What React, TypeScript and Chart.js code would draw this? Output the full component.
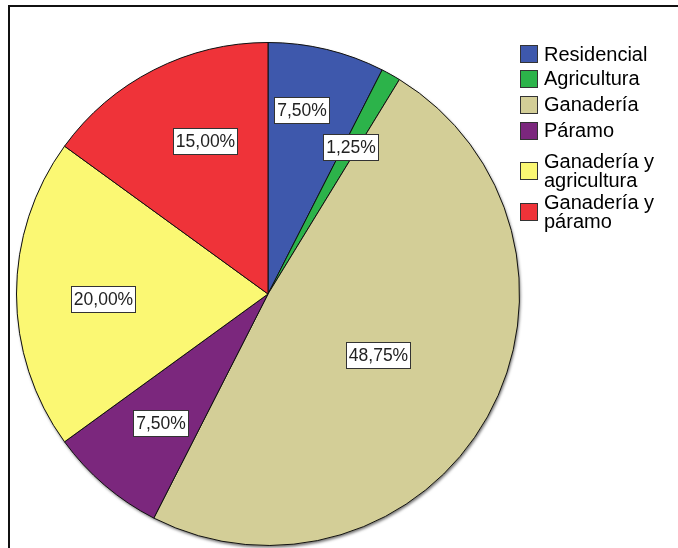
import React, { useEffect, useRef } from "react";
import { Chart, registerables } from "chart.js";

Chart.register(...registerables);

const categories = [
  "Residencial",
  "Agricultura",
  "Ganadería",
  "Páramo",
  "Ganadería y agricultura",
  "Ganadería y páramo",
];
const legendLines = [
  ["Residencial"],
  ["Agricultura"],
  ["Ganadería"],
  ["Páramo"],
  ["Ganadería y", "agricultura"],
  ["Ganadería y", "páramo"],
];
const percentages = [7.5, 1.25, 48.75, 7.5, 20.0, 15.0];
const colors = ["#3E58AC", "#2CB34A", "#D3CE97", "#7B277D", "#FBF873", "#EF3339"];

// label placement style (radius fraction, angular nudge in degrees)
const LABEL_R = [0.745, 0.67, 0.5, 0.667, 0.657, 0.657];
const LABEL_NUDGE = [-3.1, 0, 0, -0.7, -1.6, 4.6];
// legend layout
const LEGEND_X = 520;
const LEGEND_Y0 = 54;
const LEGEND_STEPS = [24.5, 26, 26, 40, 41];

const fmt = (v: number) => v.toFixed(2).replace(".", ",") + "%";

const shadowPlugin = {
  id: "pieShadow",
  beforeDatasetsDraw(chart: any) {
    const arc = chart.getDatasetMeta(0).data[0];
    if (!arc) return;
    const { x, y, outerRadius } = arc.getProps(["x", "y", "outerRadius"], true);
    const ctx = chart.ctx;
    ctx.save();
    ctx.shadowColor = "rgba(0,0,0,0.55)";
    ctx.shadowBlur = 3;
    ctx.shadowOffsetX = 1;
    ctx.shadowOffsetY = 2;
    ctx.beginPath();
    ctx.arc(x, y, outerRadius, 0, Math.PI * 2);
    ctx.fillStyle = "#888";
    ctx.fill();
    ctx.restore();
  },
};

const labelPlugin = {
  id: "pctLabels",
  afterDatasetsDraw(chart: any) {
    const ctx = chart.ctx;
    const meta = chart.getDatasetMeta(0);
    ctx.save();
    ctx.font = '17.5px "Liberation Sans", Arial, sans-serif';
    ctx.textAlign = "center";
    ctx.textBaseline = "middle";
    meta.data.forEach((arc: any, i: number) => {
      const { x, y, startAngle, endAngle, outerRadius } = arc.getProps(
        ["x", "y", "startAngle", "endAngle", "outerRadius"],
        true
      );
      const mid = (startAngle + endAngle) / 2 + (LABEL_NUDGE[i] * Math.PI) / 180;
      const r = outerRadius * LABEL_R[i];
      const cx = x + Math.cos(mid) * r;
      const cy = y + Math.sin(mid) * r;
      const text = fmt(percentages[i]);
      const w = Math.round(ctx.measureText(text).width + 5);
      const h = 26;
      const bx = Math.round(cx - w / 2) + 0.5;
      const by = Math.round(cy - h / 2) + 0.5;
      ctx.fillStyle = "#ffffff";
      ctx.fillRect(bx, by, w, h);
      ctx.strokeStyle = "#333333";
      ctx.lineWidth = 1;
      ctx.strokeRect(bx, by, w, h);
      ctx.fillStyle = "#222222";
      ctx.fillText(text, bx + w / 2, by + h / 2 + 1);
    });
    ctx.restore();
  },
};

const legendPlugin = {
  id: "sideLegend",
  afterDraw(chart: any) {
    const ctx = chart.ctx;
    ctx.save();
    ctx.font = '20px "Liberation Sans", Arial, sans-serif';
    ctx.textAlign = "left";
    ctx.textBaseline = "middle";
    let cy = LEGEND_Y0;
    categories.forEach((_c, i) => {
      if (i > 0) cy += LEGEND_STEPS[i - 1];
      const lines = legendLines[i];
      ctx.fillStyle = colors[i];
      ctx.fillRect(LEGEND_X, Math.round(cy - 9), 18, 18);
      ctx.strokeStyle = "#333";
      ctx.lineWidth = 1;
      ctx.strokeRect(LEGEND_X + 0.5, Math.round(cy - 9) + 0.5, 17, 17);
      ctx.fillStyle = "#000";
      const lh = 19;
      const top = cy - ((lines.length - 1) * lh) / 2;
      lines.forEach((ln, k) => ctx.fillText(ln, LEGEND_X + 24, top + k * lh + 1));
    });
    ctx.restore();
  },
};

export default function App() {
  const ref = useRef<HTMLCanvasElement>(null);
  useEffect(() => {
    if (!ref.current) return;
    const chart = new Chart(ref.current, {
      type: "pie",
      data: {
        labels: categories,
        datasets: [
          {
            data: percentages,
            backgroundColor: colors,
            borderColor: "#111",
            borderWidth: 1,
          },
        ],
      },
      options: {
        animation: false,
        responsive: false,
        layout: { padding: { left: 16, top: 42, right: 158, bottom: 2 } },
        plugins: {
          legend: { display: false },
          tooltip: { enabled: false },
        },
      },
      plugins: [shadowPlugin, labelPlugin, legendPlugin],
    });
    return () => chart.destroy();
  }, []);
  return (
    <div
      style={{
        position: "absolute",
        left: 0,
        top: 0,
        width: 678,
        height: 548,
        overflow: "hidden",
        background: "#fff",
      }}
    >
      <div
        style={{
          position: "absolute",
          left: 8,
          top: 5,
          width: 760,
          height: 640,
          borderLeft: "2px solid #111",
          borderTop: "2px solid #111",
        }}
      />
      <canvas
        ref={ref}
        width={678}
        height={548}
        style={{ position: "absolute", left: 0, top: 0 }}
      />
    </div>
  );
}
